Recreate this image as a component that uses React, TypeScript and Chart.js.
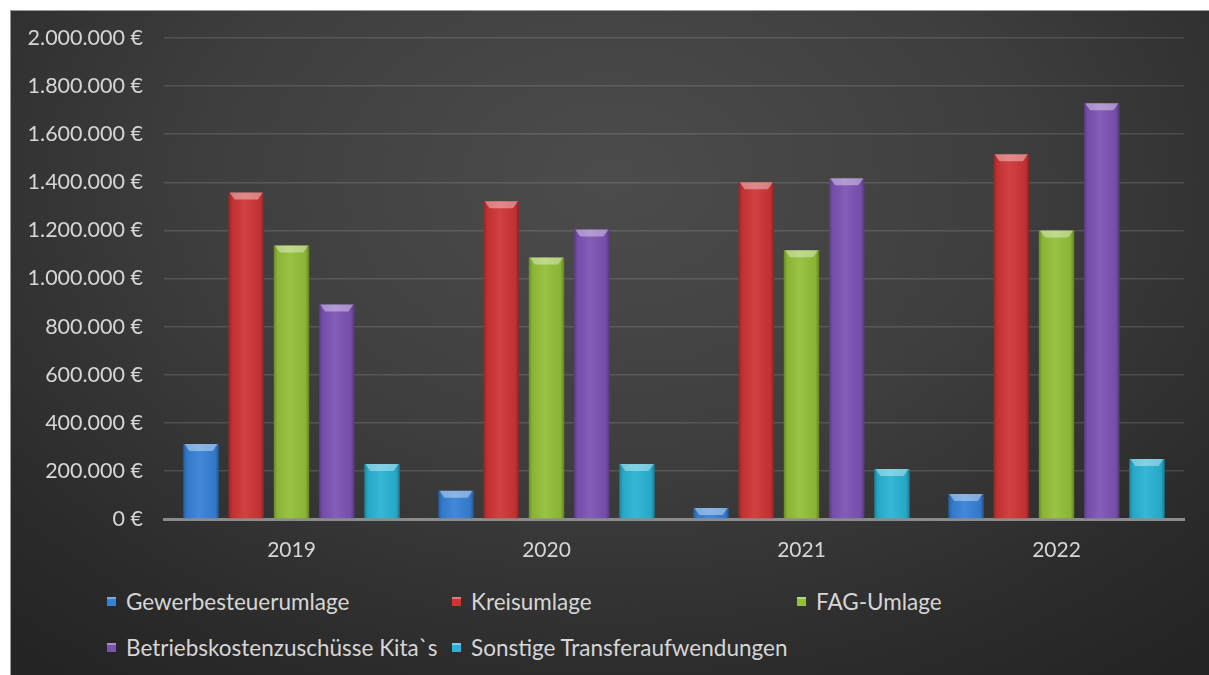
import React, { useEffect, useRef } from "react";
import { Chart, registerables } from "chart.js";

Chart.register(...registerables);

const years = ["2019", "2020", "2021", "2022"];
const gewerbesteuerumlage = [312000, 117000, 46000, 104000];
const kreisumlage = [1358000, 1321000, 1400000, 1517000];
const fagUmlage = [1137000, 1087000, 1117000, 1200000];
const betriebskostenKita = [892000, 1204000, 1417000, 1729000];
const sonstigeTransfer = [229000, 229000, 208000, 250000];

const seriesNames = [
  "Gewerbesteuerumlage",
  "Kreisumlage",
  "FAG-Umlage",
  "Betriebskostenzuschüsse Kita`s",
  "Sonstige Transferaufwendungen",
];
const seriesColors = ["#3680d6", "#cd3434", "#93bf38", "#7c52b4", "#28b2d3"];
const seriesValues = [gewerbesteuerumlage, kreisumlage, fagUmlage, betriebskostenKita, sonstigeTransfer];

const FONT = "Lato, 'Open Sans', sans-serif";
const TEXT = "#d6d6d6";

function formatEuro(v: number): string {
  const s = Math.round(v).toString().replace(/\B(?=(\d{3})+(?!\d))/g, ".");
  return s + " €";
}

const bevelPlugin = {
  id: "bevel",
  afterDatasetsDraw(chart: any) {
    const ctx = chart.ctx as CanvasRenderingContext2D;
    chart.data.datasets.forEach((_ds: any, i: number) => {
      const meta = chart.getDatasetMeta(i);
      meta.data.forEach((bar: any) => {
        const p = bar.getProps(["x", "y", "base", "width"], true);
        const left = p.x - p.width / 2;
        const right = p.x + p.width / 2;
        const h = p.base - p.y;
        if (h <= 0) return;
        ctx.save();
        const g = ctx.createLinearGradient(left, 0, right, 0);
        g.addColorStop(0, "rgba(0,0,0,0.28)");
        g.addColorStop(0.1, "rgba(0,0,0,0.06)");
        g.addColorStop(0.45, "rgba(255,255,255,0.07)");
        g.addColorStop(0.9, "rgba(0,0,0,0.06)");
        g.addColorStop(1, "rgba(0,0,0,0.32)");
        ctx.fillStyle = g;
        ctx.fillRect(left, p.y, p.width, h);
        const bh = Math.min(7, h);
        ctx.beginPath();
        ctx.moveTo(left + 1, p.y);
        ctx.lineTo(right - 1, p.y);
        ctx.lineTo(right - 6, p.y + bh);
        ctx.lineTo(left + 6, p.y + bh);
        ctx.closePath();
        ctx.fillStyle = "rgba(255,255,255,0.38)";
        ctx.fill();
        ctx.restore();
      });
    });
  },
};

export default function App() {
  const canvasRef = useRef<HTMLCanvasElement | null>(null);

  useEffect(() => {
    if (!canvasRef.current) return;
    const chart = new Chart(canvasRef.current, {
      type: "bar",
      data: {
        labels: years,
        datasets: seriesNames.map((name, i) => ({
          label: name,
          data: seriesValues[i],
          backgroundColor: seriesColors[i],
          borderWidth: 0,
          categoryPercentage: 0.887,
          barPercentage: 0.78,
        })),
      },
      options: {
        animation: false,
        responsive: false,
        maintainAspectRatio: false,
        layout: { padding: { left: 0, right: 26, top: 27, bottom: 0 } },
        plugins: {
          legend: { display: false },
          tooltip: { enabled: false },
        },
        scales: {
          x: {
            grid: { display: false, drawTicks: false },
            border: { display: true, color: "#8c8c8c", width: 3 },
            ticks: {
              color: TEXT,
              font: { family: FONT, size: 21 },
              padding: 19,
            },
            afterFit: (scale: any) => {
              scale.height = 52;
              scale.paddingLeft = 0;
              scale.paddingRight = 0;
            },
          },
          y: {
            min: 0,
            max: 2000000,
            grid: { color: "rgba(255,255,255,0.13)", lineWidth: 1.5, drawTicks: false },
            border: { display: false },
            ticks: {
              stepSize: 200000,
              color: TEXT,
              font: { family: FONT, size: 21.5 },
              padding: 21,
              callback: (v: any) => formatEuro(Number(v)),
            },
            afterFit: (scale: any) => {
              scale.width = 153;
              scale.paddingTop = 0;
              scale.paddingBottom = 0;
            },
          },
        },
      },
      plugins: [bevelPlugin],
    });
    return () => chart.destroy();
  }, []);

  const legendRows = [
    [0, 1, 2],
    [3, 4],
  ];
  const colX = [96, 441, 786];
  const rowY = [575, 621];

  return (
    <div
      style={{
        position: "fixed",
        left: 0,
        top: 0,
        width: 1209,
        height: 675,
        background: "#ffffff",
      }}
    >
      <div
        style={{
          position: "absolute",
          left: 10,
          top: 10,
          width: 1199,
          height: 665,
          borderTop: "1px solid #9a9a9a",
          borderLeft: "1px solid #9a9a9a",
          boxSizing: "border-box",
          background:
            "radial-gradient(ellipse 75% 95% at 50% 25%, #4c4c4c 0%, #3e3e3e 45%, #2c2c2c 80%, #242424 100%)",
          overflow: "hidden",
        }}
      >
        <canvas
          ref={canvasRef}
          width={1199}
          height={560}
          style={{ position: "absolute", left: 0, top: 0, width: 1199, height: 560 }}
        />
        {legendRows.map((row, r) =>
          row.map((si, c) => (
            <div
              key={si}
              style={{
                position: "absolute",
                left: colX[c],
                top: rowY[r],
                height: 30,
                display: "flex",
                alignItems: "center",
                fontFamily: FONT,
                fontSize: 22.5,
                color: TEXT,
                whiteSpace: "nowrap",
              }}
            >
              <span
                style={{
                  display: "inline-block",
                  width: 9,
                  height: 9,
                  background: seriesColors[si],
                  marginRight: 10,
                  boxShadow: "inset 0 2px 0 rgba(255,255,255,0.35)",
                }}
              />
              <span>{seriesNames[si]}</span>
            </div>
          ))
        )}
      </div>
    </div>
  );
}
